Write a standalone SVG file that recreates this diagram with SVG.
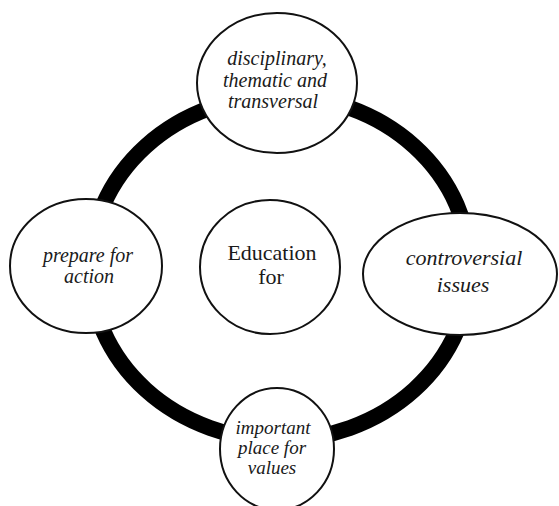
<svg xmlns="http://www.w3.org/2000/svg" width="559" height="506" viewBox="0 0 559 506">
<style>
.node{fill:#fff;stroke:#111;stroke-width:2}
.ring{fill:none;stroke:#000;stroke-width:16}
.it{font-family:"Liberation Serif","Times New Roman",serif;font-style:italic;font-size:20px;fill:#1a1a1a;text-anchor:middle}
.up{font-family:"Liberation Serif","Times New Roman",serif;font-size:22px;fill:#1a1a1a;text-anchor:middle}
</style>
<rect width="559" height="506" fill="#fff"/>
<g id="connectors">
<ellipse class="ring" cx="280" cy="268" rx="190" ry="172"/>
</g>
<g id="top">
<ellipse class="node" cx="277" cy="83" rx="80" ry="70"/>
<text class="it" x="277" y="65">disciplinary,</text>
<text class="it" x="275" y="87">thematic and</text>
<text class="it" x="273" y="108">transversal</text>
</g>
<g id="left">
<ellipse class="node" cx="86" cy="266" rx="76" ry="67"/>
<text class="it" x="88" y="262">prepare for</text>
<text class="it" x="89" y="283">action</text>
</g>
<g id="center">
<ellipse class="node" cx="270" cy="267" rx="70" ry="67"/>
<text class="up" x="272" y="260">Education</text>
<text class="up" x="271" y="284">for</text>
</g>
<g id="right">
<ellipse class="node" cx="460" cy="274" rx="97" ry="61"/>
<text class="it" x="464" y="265" style="font-size:22px">controversial</text>
<text class="it" x="463" y="292" style="font-size:22px">issues</text>
</g>
<g id="bottom">
<ellipse class="node" cx="277" cy="449" rx="57" ry="61"/>
<text class="it" x="273" y="434" style="font-size:19px">important</text>
<text class="it" x="272" y="454" style="font-size:19px">place for</text>
<text class="it" x="272" y="474" style="font-size:19px">values</text>
</g>
</svg>
